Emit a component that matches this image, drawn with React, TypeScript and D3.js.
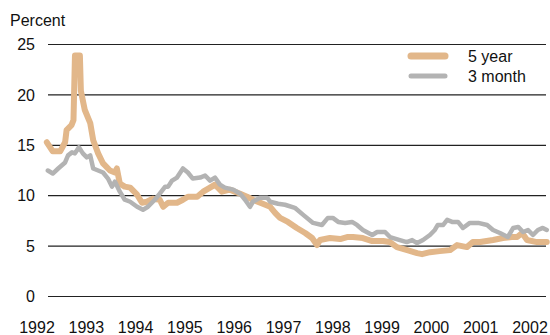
import React from "react";
import * as d3 from "d3";

// ---- data (decimal years, percent) ----
const fiveYearDates = [
  1992.2, 1992.32, 1992.47, 1992.57, 1992.6, 1992.7, 1992.74, 1992.77, 1992.87, 1992.89,
  1992.97, 1993.08, 1993.14, 1993.24, 1993.34, 1993.48, 1993.58, 1993.62, 1993.68, 1993.78,
  1993.89, 1994.03, 1994.13, 1994.23, 1994.35, 1994.49, 1994.56, 1994.66, 1994.84, 1994.96,
  1995.06, 1995.25, 1995.37, 1995.51, 1995.61, 1995.75, 1995.91, 1996.12, 1996.26, 1996.38,
  1996.58, 1996.73, 1996.83, 1996.93, 1997.09, 1997.27, 1997.44, 1997.58, 1997.68, 1997.74,
  1997.94, 1998.15, 1998.29, 1998.41, 1998.61, 1998.8, 1999.02, 1999.16, 1999.3, 1999.51,
  1999.71, 1999.81, 1999.97, 2000.17, 2000.38, 2000.52, 2000.72, 2000.84, 2000.99, 2001.25,
  2001.45, 2001.63, 2001.74, 2001.84, 2001.94, 2002.14, 2002.34,
];
const fiveYearValues = [
  15.3, 14.4, 14.4, 15.3, 16.5, 17.0, 17.5, 23.9, 23.9, 20.4,
  18.5, 17.2, 15.5, 14.2, 13.2, 12.5, 12.3, 12.7, 11.2, 10.9,
  10.8, 10.1, 9.3, 9.4, 9.7, 9.6, 8.9, 9.3, 9.3, 9.6,
  9.9, 9.9, 10.4, 10.8, 11.1, 10.4, 10.6, 10.2, 9.9, 9.6,
  9.2, 8.9, 8.3, 7.8, 7.4, 6.8, 6.3, 5.8, 5.1, 5.6,
  5.8, 5.7, 5.9, 5.9, 5.8, 5.5, 5.5, 5.4, 4.9, 4.6,
  4.3, 4.2, 4.4, 4.5, 4.6, 5.1, 4.9, 5.4, 5.4, 5.6,
  5.8, 5.9, 5.9, 6.3, 5.6, 5.4, 5.4,
];

const threeMonthDates = [
  1992.22, 1992.32, 1992.43, 1992.57, 1992.63, 1992.71, 1992.77, 1992.85, 1992.93, 1993.01,
  1993.08, 1993.14, 1993.24, 1993.34, 1993.44, 1993.52, 1993.58, 1993.68, 1993.78, 1993.89,
  1994.03, 1994.15, 1994.25, 1994.39, 1994.49, 1994.6, 1994.66, 1994.74, 1994.84, 1994.96,
  1995.06, 1995.16, 1995.31, 1995.41, 1995.51, 1995.61, 1995.71, 1995.81, 1995.98, 1996.12,
  1996.22, 1996.32, 1996.38, 1996.52, 1996.67, 1996.73, 1996.89, 1997.03, 1997.23, 1997.4,
  1997.6, 1997.78, 1997.9, 1998.0, 1998.11, 1998.25, 1998.39, 1998.49, 1998.61, 1998.8,
  1998.9, 1999.06, 1999.16, 1999.36, 1999.5, 1999.61, 1999.71, 1999.83, 1999.97, 2000.07,
  2000.13, 2000.24, 2000.32, 2000.42, 2000.54, 2000.64, 2000.78, 2000.95, 2001.13, 2001.25,
  2001.39, 2001.55, 2001.66, 2001.76, 2001.86, 2001.96, 2002.06, 2002.16, 2002.26, 2002.34,
];
const threeMonthValues = [
  12.5, 12.2, 12.7, 13.3, 14.0, 14.3, 14.2, 14.8, 14.2, 13.8,
  14.0, 12.7, 12.5, 12.3, 11.7, 10.9, 11.4, 10.4, 9.6, 9.4,
  8.9, 8.6, 8.9, 9.6, 10.2, 10.9, 10.9, 11.5, 11.8, 12.7,
  12.3, 11.7, 11.8, 12.0, 11.5, 11.8, 11.1, 10.8, 10.6, 10.2,
  9.6, 8.9, 9.4, 9.8, 9.8, 9.4, 9.2, 9.1, 8.8, 8.1,
  7.3, 7.1, 7.8, 7.8, 7.4, 7.3, 7.4, 7.1, 6.6, 6.1,
  6.4, 6.4, 5.9, 5.6, 5.4, 5.6, 5.3, 5.6, 6.1, 6.6,
  7.1, 7.1, 7.6, 7.4, 7.4, 6.8, 7.3, 7.3, 7.1, 6.6,
  6.3, 5.9, 6.8, 6.9, 6.4, 6.6, 6.1, 6.6, 6.8, 6.6,
];

const yearTicks = [1992, 1993, 1994, 1995, 1996, 1997, 1998, 1999, 2000, 2001, 2002];
const yTicks = [0, 5, 10, 15, 20, 25];
const seriesNames = ["5 year", "3 month"];
const seriesColors = ["#E2B78A", "#B3B3B3"];

const W = 550;
const H = 335;
const FONT = "'Liberation Sans', Arial, Helvetica, sans-serif";

export default function App() {
  const x = d3.scaleLinear().domain([1992, 2002]).range([37, 530]);
  const y = d3.scaleLinear().domain([0, 25]).range([296.5, 44.5]);
  const gridX0 = 48;
  const gridX1 = 546;

  const line = d3
    .line<[number, number]>()
    .x((d) => x(d[0]))
    .y((d) => y(d[1]));

  const five: [number, number][] = fiveYearDates.map((d, i) => [d, fiveYearValues[i]]);
  const three: [number, number][] = threeMonthDates.map((d, i) => [d, threeMonthValues[i]]);

  return (
    <svg
      width={W}
      height={H}
      style={{ position: "absolute", left: 0, top: 0, background: "#fff" }}
      fontFamily={FONT}
    >
      <rect width={W} height={H} fill="#fff" />
      <text x={10} y={26} fontSize={16} fill="#111">
        Percent
      </text>
      {yTicks.map((t) => (
        <g key={t}>
          <line x1={gridX0} x2={gridX1} y1={y(t)} y2={y(t)} stroke="#222" strokeWidth={1.2} />
          <text x={35} y={y(t)} dy="0.35em" textAnchor="end" fontSize={16} fill="#111">
            {t}
          </text>
        </g>
      ))}
      {yearTicks.map((t) => (
        <text key={t} x={x(t)} y={333} textAnchor="middle" fontSize={16} fill="#111">
          {t}
        </text>
      ))}
      <path
        d={line(five) || ""}
        fill="none"
        stroke={seriesColors[0]}
        strokeWidth={6}
        strokeLinejoin="round"
        strokeLinecap="round"
      />
      <path
        d={line(three) || ""}
        fill="none"
        stroke={seriesColors[1]}
        strokeWidth={4.5}
        strokeLinejoin="round"
        strokeLinecap="round"
      />
      {seriesNames.map((name, i) => (
        <g key={name} transform={`translate(0, ${56 + i * 20})`}>
          <line
            x1={411}
            x2={445}
            y1={0}
            y2={0}
            stroke={seriesColors[i]}
            strokeWidth={i === 0 ? 7 : 5}
            strokeLinecap="round"
          />
          <text x={468} y={0} dy="0.35em" fontSize={16} fill="#111">
            {name}
          </text>
        </g>
      ))}
    </svg>
  );
}
